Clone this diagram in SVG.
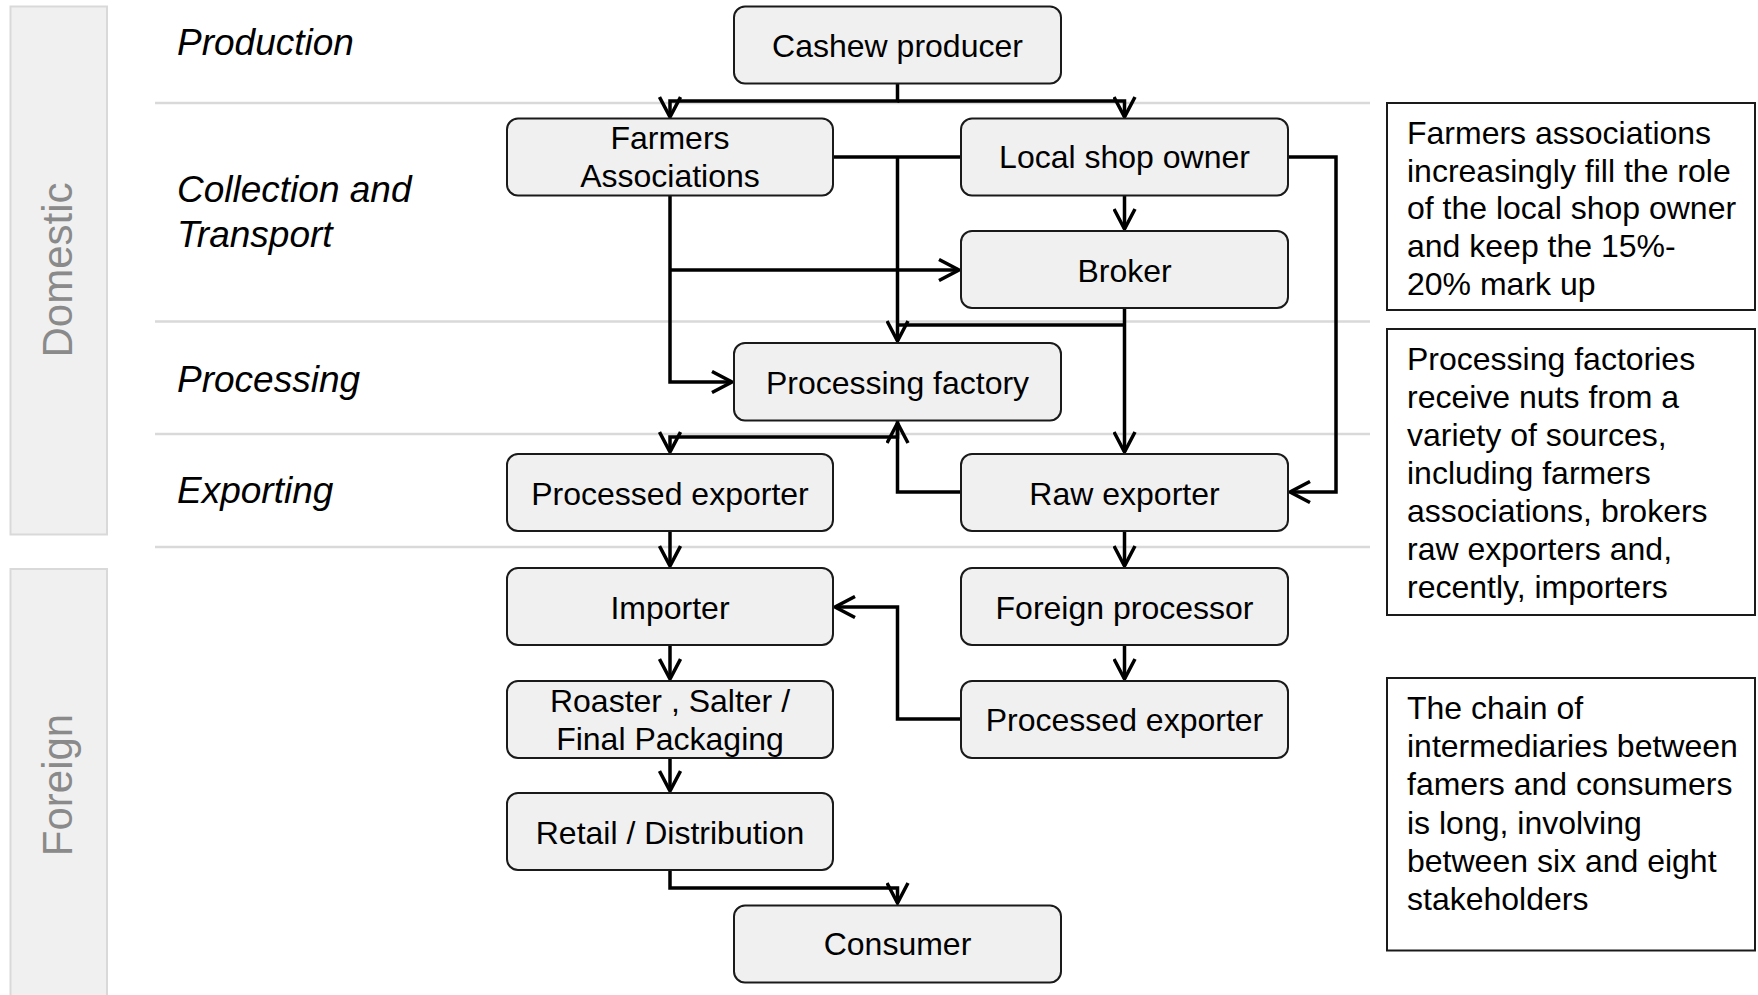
<svg xmlns="http://www.w3.org/2000/svg" width="1758" height="995" viewBox="0 0 1758 995">
  <defs>
    <style>
      text { font-family: "Liberation Sans", Arial, sans-serif; fill: #000; }
      .band { fill: #f0f0f0; stroke: #d9d9d9; stroke-width: 2; }
      .band-label { font-size: 42px; fill: #8a8a8a; text-anchor: middle; }
      .sep { stroke: #d9d9d9; stroke-width: 2.5; fill: none; }
      .stage { font-size: 37px; font-style: italic; }
      .node rect { fill: #f0f0f0; stroke: #1a1a1a; stroke-width: 2; }
      .node text { font-size: 32px; text-anchor: middle; }
      .note rect { fill: #fff; stroke: #1a1a1a; stroke-width: 2; }
      .note text { font-size: 32px; }
      .conn path { fill: none; stroke: #000; stroke-width: 3.5; stroke-linejoin: miter; }
      .arrow { marker-end: url(#open-arrow); }
    </style>
    <marker id="open-arrow" markerUnits="userSpaceOnUse" viewBox="-2 -2 26 24" refX="20" refY="10" markerWidth="26" markerHeight="24" orient="auto">
      <path d="M0,-0.5 L20,10 L0,20.5" fill="none" stroke="#000" stroke-width="3.5"/>
    </marker>
  </defs>

  <rect width="1758" height="995" fill="#fff"/>

  <!-- domestic / foreign bands -->
  <g id="band-domestic">
    <rect class="band" x="10.5" y="6.5" width="96.5" height="528"/>
    <text class="band-label" transform="translate(72,270) rotate(-90)">Domestic</text>
  </g>
  <g id="band-foreign">
    <rect class="band" x="10.5" y="569" width="96.5" height="440"/>
    <text class="band-label" transform="translate(72,785) rotate(-90)">Foreign</text>
  </g>

  <!-- stage separators -->
  <g id="separators">
    <line class="sep" x1="155" y1="103" x2="1370" y2="103"/>
    <line class="sep" x1="155" y1="321.5" x2="1370" y2="321.5"/>
    <line class="sep" x1="155" y1="434" x2="1370" y2="434"/>
    <line class="sep" x1="155" y1="547" x2="1370" y2="547"/>
  </g>

  <!-- stage labels -->
  <g id="stages">
    <text class="stage" x="177" y="55">Production</text>
    <text class="stage" x="177" y="202">Collection and</text>
    <text class="stage" x="177" y="247">Transport</text>
    <text class="stage" x="177" y="392">Processing</text>
    <text class="stage" x="177" y="503">Exporting</text>
  </g>

  <!-- connectors -->
  <g id="connectors" class="conn">
    <path class="arrow" d="M897.5,83 V101 H670 V117"/>
    <path class="arrow" d="M897.5,101 H1124.5 V117"/>
    <path d="M833,157 H961"/>
    <path class="arrow" d="M897.5,157 V341"/>
    <path class="arrow" d="M670,196 V382 H732"/>
    <path class="arrow" d="M670,270 H959"/>
    <path class="arrow" d="M1124.5,195 V229"/>
    <path class="arrow" d="M1288,157 H1336 V492 H1290"/>
    <path class="arrow" d="M1124.5,308 V452"/>
    <path d="M1124.5,325 H897.5"/>
    <path class="arrow" d="M961,492 H897.5 V423"/>
    <path class="arrow" d="M897.5,421 V437 H670 V452"/>
    <path class="arrow" d="M670,531 V566"/>
    <path class="arrow" d="M1124.5,531 V566"/>
    <path class="arrow" d="M1124.5,645 V679"/>
    <path class="arrow" d="M961,719 H897.5 V607 H835"/>
    <path class="arrow" d="M670,645 V679"/>
    <path class="arrow" d="M670,758 V791"/>
    <path class="arrow" d="M670,870 V888 H897.5 V903"/>
  </g>

  <!-- nodes -->
  <g id="cashew-producer" class="node">
    <rect x="734" y="6.5" width="327" height="77" rx="11"/>
    <text x="897.5" y="57">Cashew producer</text>
  </g>
  <g id="farmers-associations" class="node">
    <rect x="507" y="118.5" width="326" height="77" rx="11"/>
    <text x="670" y="149">Farmers</text>
    <text x="670" y="187">Associations</text>
  </g>
  <g id="local-shop-owner" class="node">
    <rect x="961" y="118.5" width="327" height="77" rx="11"/>
    <text x="1124.5" y="168">Local shop owner</text>
  </g>
  <g id="broker" class="node">
    <rect x="961" y="231" width="327" height="77" rx="11"/>
    <text x="1124.5" y="281.5">Broker</text>
  </g>
  <g id="processing-factory" class="node">
    <rect x="734" y="343" width="327" height="77.5" rx="11"/>
    <text x="897.5" y="394">Processing factory</text>
  </g>
  <g id="processed-exporter-domestic" class="node">
    <rect x="507" y="454" width="326" height="77" rx="11"/>
    <text x="670" y="504.5">Processed exporter</text>
  </g>
  <g id="raw-exporter" class="node">
    <rect x="961" y="454" width="327" height="77" rx="11"/>
    <text x="1124.5" y="504.5">Raw exporter</text>
  </g>
  <g id="importer" class="node">
    <rect x="507" y="568" width="326" height="77" rx="11"/>
    <text x="670" y="618.5">Importer</text>
  </g>
  <g id="foreign-processor" class="node">
    <rect x="961" y="568" width="327" height="77" rx="11"/>
    <text x="1124.5" y="618.5">Foreign processor</text>
  </g>
  <g id="roaster-salter" class="node">
    <rect x="507" y="681" width="326" height="77" rx="11"/>
    <text x="670" y="712">Roaster , Salter /</text>
    <text x="670" y="750">Final Packaging</text>
  </g>
  <g id="processed-exporter-foreign" class="node">
    <rect x="961" y="681" width="327" height="77" rx="11"/>
    <text x="1124.5" y="731">Processed exporter</text>
  </g>
  <g id="retail-distribution" class="node">
    <rect x="507" y="793" width="326" height="77" rx="11"/>
    <text x="670" y="843.5">Retail / Distribution</text>
  </g>
  <g id="consumer" class="node">
    <rect x="734" y="905.5" width="327" height="77" rx="11"/>
    <text x="897.5" y="955">Consumer</text>
  </g>

  <!-- side notes -->
  <g id="note-farmers" class="note">
    <rect x="1387" y="103" width="368" height="207"/>
    <text x="1407" y="143.8">Farmers associations</text>
    <text x="1407" y="181.6">increasingly fill the role</text>
    <text x="1407" y="219.4">of the local shop owner</text>
    <text x="1407" y="257.2">and keep the 15%-</text>
    <text x="1407" y="295">20% mark up</text>
  </g>
  <g id="note-processing" class="note">
    <rect x="1387" y="329" width="368" height="286"/>
    <text x="1407" y="369.5">Processing factories</text>
    <text x="1407" y="407.5">receive nuts from a</text>
    <text x="1407" y="445.5">variety of sources,</text>
    <text x="1407" y="483.5">including farmers</text>
    <text x="1407" y="521.5">associations, brokers</text>
    <text x="1407" y="559.5">raw exporters and,</text>
    <text x="1407" y="597.5">recently, importers</text>
  </g>
  <g id="note-chain" class="note">
    <rect x="1387" y="678" width="368" height="272.5"/>
    <text x="1407" y="719">The chain of</text>
    <text x="1407" y="757.2">intermediaries between</text>
    <text x="1407" y="795.4">famers and consumers</text>
    <text x="1407" y="833.6">is long, involving</text>
    <text x="1407" y="871.8">between six and eight</text>
    <text x="1407" y="910">stakeholders</text>
  </g>
</svg>
